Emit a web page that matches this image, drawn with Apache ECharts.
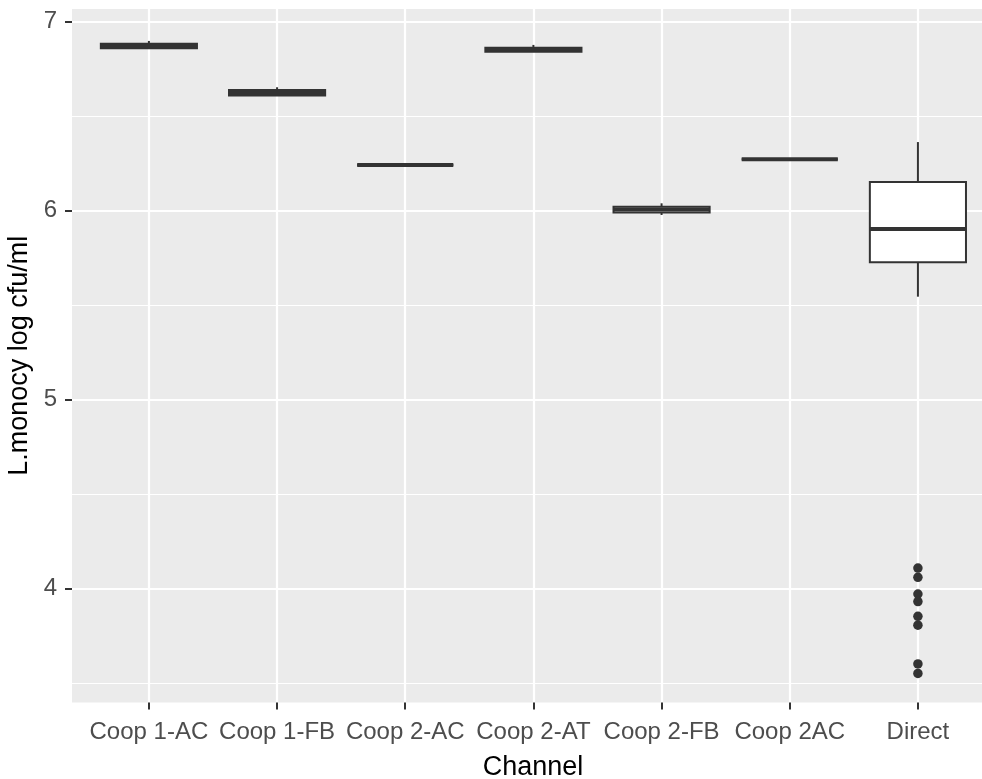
<!DOCTYPE html>
<html>
<head>
<meta charset="utf-8">
<title>L.monocy by channel</title>
<script src="https://cdn.jsdelivr.net/npm/echarts@6/dist/echarts.min.js"></script>
<style>
  html, body { margin: 0; padding: 0; background: #ffffff; }
  #chart { width: 982px; height: 779px; }
</style>
</head>
<body>
<div id="chart"></div>
<script>
// Channel categories along the x axis
const channels = ['Coop 1-AC', 'Coop 1-FB', 'Coop 2-AC', 'Coop 2-AT', 'Coop 2-FB', 'Coop 2AC', 'Direct'];

// Five-number summaries per channel (log cfu/ml)
const whiskerLow  = [6.857, 6.605, 6.240, 6.839, 5.975, 6.270, 5.543];
const lowerQuart  = [6.857, 6.607, 6.240, 6.839, 5.989, 6.270, 5.725];
const medians     = [6.869, 6.621, 6.240, 6.850, 6.004, 6.270, 5.901];
const upperQuart  = [6.881, 6.636, 6.240, 6.860, 6.019, 6.270, 6.150];
const whiskerHigh = [6.896, 6.651, 6.240, 6.875, 6.037, 6.270, 6.361];

// Outlying observations
const outlierChannel = 'Direct';
const outlierValues = [4.107, 4.058, 3.970, 3.930, 3.852, 3.805, 3.600, 3.550];

// Axis ticks
const yMajorTicks = [4, 5, 6, 7];
const yMinorTicks = [3.5, 4.5, 5.5, 6.5];
const yRange = [3.396, 7.065];

const FONT = "'Liberation Sans', Arial, sans-serif";
const INK = '#333333';

// Positions on the x scale are 1-based category slots
const slots = channels.map((_, i) => i + 1);
const boxData = channels.map((_, i) => [
  i + 1, whiskerLow[i], lowerQuart[i], medians[i], upperQuart[i], whiskerHigh[i]
]);
const outlierSlot = channels.indexOf(outlierChannel) + 1;
const outlierData = outlierValues.map(v => [outlierSlot, v]);

function renderBox(params, api) {
  const x = api.value(0);
  const lo = api.coord([x, api.value(1)]);
  const q1 = api.coord([x, api.value(2)]);
  const md = api.coord([x, api.value(3)]);
  const q3 = api.coord([x, api.value(4)]);
  const hi = api.coord([x, api.value(5)]);
  const half = api.size([1, 0])[0] * 0.375;
  return {
    type: 'group',
    children: [
      { type: 'line', shape: { x1: hi[0], y1: hi[1], x2: q3[0], y2: q3[1] },
        style: { stroke: INK, lineWidth: 2 } },
      { type: 'line', shape: { x1: lo[0], y1: lo[1], x2: q1[0], y2: q1[1] },
        style: { stroke: INK, lineWidth: 2 } },
      { type: 'rect', shape: { x: q3[0] - half, y: q3[1], width: half * 2, height: q1[1] - q3[1] },
        style: { fill: '#ffffff', stroke: INK, lineWidth: 2 } },
      { type: 'line', shape: { x1: md[0] - half, y1: md[1], x2: md[0] + half, y2: md[1] },
        style: { stroke: INK, lineWidth: 4 } }
    ]
  };
}

const chart = echarts.init(document.getElementById('chart'), null, { renderer: 'canvas' });

chart.setOption({
  backgroundColor: '#ffffff',
  animation: false,
  grid: {
    left: 72, right: 0, top: 9, bottom: 76.5,
    outerBoundsMode: 'none',
    containLabel: false,
    show: true, backgroundColor: '#EBEBEB', borderWidth: 0
  },
  xAxis: {
    type: 'value',
    min: 0.4, max: 7.5,
    name: 'Channel',
    nameLocation: 'middle',
    nameGap: 52,
    nameTextStyle: { fontFamily: FONT, fontSize: 27, color: '#000000', padding: [0, 0, 0, 12] },
    axisLine: { show: false },
    axisTick: { show: true, customValues: slots, length: 7, lineStyle: { color: INK, width: 2 } },
    axisLabel: {
      customValues: slots,
      margin: 18,
      fontFamily: FONT, fontSize: 24, color: '#4D4D4D',
      formatter: v => channels[Math.round(v) - 1] || ''
    },
    splitLine: { show: true, lineStyle: { color: '#ffffff', width: 2.2 } }
  },
  yAxis: [
    {
      type: 'value',
      min: yRange[0], max: yRange[1],
      name: 'L.monocy log cfu/ml',
      nameLocation: 'middle',
      nameRotate: 90,
      nameGap: 38,
      nameTextStyle: { fontFamily: FONT, fontSize: 27, color: '#000000' },
      axisLine: { show: false },
      axisTick: { show: true, customValues: yMajorTicks, length: 7, lineStyle: { color: INK, width: 2 } },
      axisLabel: {
        customValues: yMajorTicks,
        margin: 15,
        fontFamily: FONT, fontSize: 24, color: '#4D4D4D'
      },
      splitLine: { show: true, lineStyle: { color: '#ffffff', width: 2.2 } }
    },
    {
      type: 'value',
      min: yRange[0], max: yRange[1],
      axisLine: { show: false },
      axisTick: { show: false, customValues: yMinorTicks },
      axisLabel: { show: false, customValues: yMinorTicks },
      splitLine: { show: true, lineStyle: { color: '#ffffff', width: 1.1 } }
    }
  ],
  series: [
    {
      type: 'custom',
      name: 'box',
      renderItem: renderBox,
      dimensions: ['slot', 'low', 'q1', 'median', 'q3', 'high'],
      encode: { x: 0, y: [1, 2, 3, 4, 5] },
      data: boxData,
      z: 3
    },
    {
      type: 'scatter',
      name: 'outliers',
      symbol: 'circle',
      symbolSize: 9.5,
      itemStyle: { color: INK, opacity: 1 },
      data: outlierData,
      z: 4
    }
  ]
});
</script>
</body>
</html>
